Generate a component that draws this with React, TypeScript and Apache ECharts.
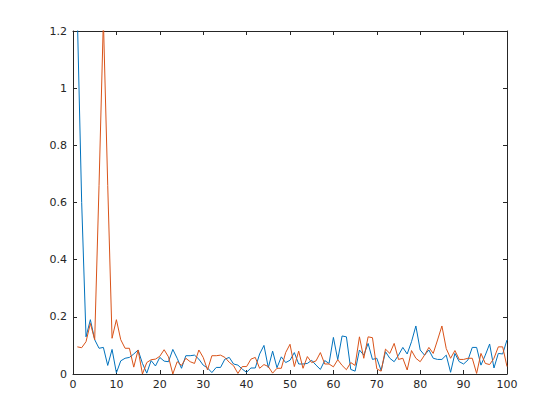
import React, { useEffect, useRef } from "react";
import * as echarts from "echarts";

const xTicks = [0, 10, 20, 30, 40, 50, 60, 70, 80, 90, 100];
const yTicks = [0, 0.2, 0.4, 0.6, 0.8, 1, 1.2];

const blueValues = [
  1.25, 0.6, 0.13, 0.19, 0.12, 0.09, 0.093, 0.03, 0.086, 0.004,
  0.046, 0.055, 0.058, 0.07, 0.084, 0.037, 0.003, 0.047, 0.028, 0.058,
  0.045, 0.043, 0.086, 0.055, 0.02, 0.064, 0.064, 0.066, 0.052, 0.031,
  0.021, 0.005, 0.023, 0.023, 0.052, 0.058, 0.035, 0.031, 0.017, 0.006,
  0.021, 0.021, 0.07, 0.1, 0.022, 0.08, 0.022, 0.06, 0.04, 0.048,
  0.075, 0.035, 0.035, 0.037, 0.048, 0.031, 0.016, 0.047, 0.037, 0.128,
  0.05, 0.133, 0.13, 0.016, 0.01, 0.084, 0.066, 0.107, 0.051, 0.055,
  0.012, 0.078, 0.055, 0.043, 0.066, 0.093, 0.07, 0.113, 0.168, 0.084,
  0.066, 0.084, 0.055, 0.051, 0.051, 0.066, 0.006, 0.072, 0.043, 0.035,
  0.049, 0.093, 0.093, 0.031, 0.066, 0.105, 0.021, 0.072, 0.07, 0.119,
];

const orangeValues = [
  0.095, 0.092, 0.113, 0.177, 0.12, 0.66, 1.24, 0.66, 0.125, 0.19,
  0.12, 0.09, 0.09, 0.024, 0.084, 0.0, 0.04, 0.05, 0.052, 0.062,
  0.085, 0.06, 0.0, 0.043, 0.03, 0.055, 0.043, 0.037, 0.084, 0.058,
  0.014, 0.064, 0.064, 0.066, 0.058, 0.041, 0.029, 0.002, 0.026, 0.026,
  0.052, 0.058, 0.02, 0.033, 0.026, 0.003, 0.02, 0.02, 0.075, 0.104,
  0.026, 0.08, 0.02, 0.061, 0.04, 0.046, 0.075, 0.035, 0.035, 0.025,
  0.05, 0.03, 0.015, 0.04, 0.03, 0.13, 0.055, 0.13, 0.127, 0.018,
  0.01, 0.087, 0.072, 0.107, 0.051, 0.055, 0.014, 0.082, 0.055, 0.043,
  0.066, 0.093, 0.072, 0.119, 0.168, 0.089, 0.055, 0.082, 0.051, 0.051,
  0.055, 0.055, 0.002, 0.072, 0.037, 0.033, 0.055, 0.095, 0.095, 0.026,
];

const AXIS_COLOR = "#262626";
const FONT = "'DejaVu Sans', sans-serif";

export default function App() {
  const ref = useRef<HTMLDivElement>(null);

  useEffect(() => {
    if (!ref.current) return;
    const chart = echarts.init(ref.current, null, { renderer: "svg" });
    const toPairs = (arr: number[]) => arr.map((v, i) => [i + 1, v]);
    const xMin = xTicks[0];
    const xMax = xTicks[xTicks.length - 1];
    const xInt = xTicks[1] - xTicks[0];
    const yMin = yTicks[0];
    const yMax = yTicks[yTicks.length - 1];
    const yInt = 0.2;

    const axisBase = {
      axisLine: { show: true, onZero: false, lineStyle: { color: AXIS_COLOR, width: 1 } },
      axisTick: { show: true, inside: true, length: 4, lineStyle: { color: AXIS_COLOR } },
      splitLine: { show: false },
    };

    chart.setOption({
      animation: false,
      backgroundColor: "#ffffff",
      grid: { left: 73, right: 53, top: 31, bottom: 46, containLabel: false },
      xAxis: [
        {
          type: "value",
          min: xMin,
          max: xMax,
          interval: xInt,
          position: "bottom",
          ...axisBase,
          axisLabel: { color: AXIS_COLOR, fontSize: 11, fontFamily: FONT, margin: 5 },
        },
        {
          type: "value",
          min: xMin,
          max: xMax,
          interval: xInt,
          position: "top",
          ...axisBase,
          axisLabel: { show: false },
        },
      ],
      yAxis: [
        {
          type: "value",
          min: yMin,
          max: yMax,
          interval: yInt,
          position: "left",
          ...axisBase,
          axisLabel: {
            color: AXIS_COLOR,
            fontSize: 11,
            fontFamily: FONT,
            margin: 6,
            formatter: (v: number) => String(Math.round(v * 10) / 10),
          },
        },
        {
          type: "value",
          min: yMin,
          max: yMax,
          interval: yInt,
          position: "right",
          ...axisBase,
          axisLabel: { show: false },
        },
      ],
      series: [
        {
          type: "line",
          data: toPairs(blueValues),
          xAxisIndex: 0,
          yAxisIndex: 0,
          showSymbol: false,
          symbol: "none",
          clip: true,
          lineStyle: { color: "#0072BD", width: 1 },
        },
        {
          type: "line",
          data: toPairs(orangeValues),
          xAxisIndex: 0,
          yAxisIndex: 0,
          showSymbol: false,
          symbol: "none",
          clip: true,
          lineStyle: { color: "#D95319", width: 1 },
        },
      ],
    });
    return () => chart.dispose();
  }, []);

  return <div ref={ref} style={{ width: 560, height: 420, position: "absolute", left: 0, top: 0 }} />;
}
